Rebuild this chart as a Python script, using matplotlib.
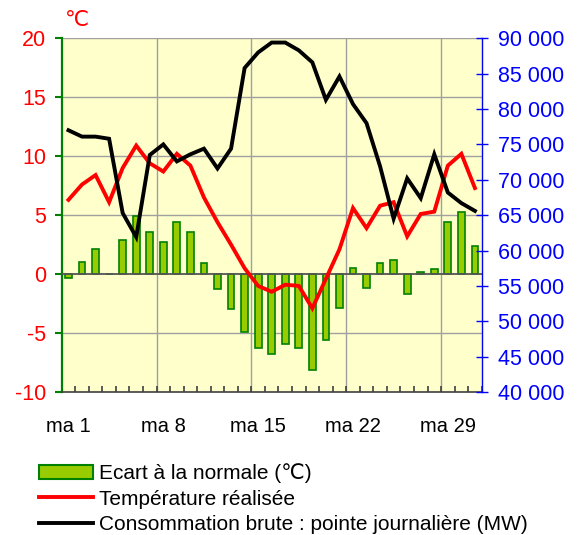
import numpy as np
import matplotlib
matplotlib.use("Agg")
import matplotlib.pyplot as plt
from matplotlib.patches import Patch
from matplotlib.lines import Line2D
from matplotlib.ticker import FixedLocator, FuncFormatter

plt.rcParams['font.family'] = ['Liberation Sans', 'DejaVu Sans']

days = np.arange(1, 32)
ecart = [-0.3, 1.0, 2.1, 0.0, 2.9, 4.9, 3.6, 2.7, 4.4, 3.6, 0.9, -1.3, -3.0, -4.9, -6.3, -6.8,
         -5.9, -6.3, -8.1, -5.6, -2.9, 0.5, -1.2, 0.9, 1.2, -1.7, 0.2, 0.4, 4.4, 5.3, 2.4]
temperature = [6.3, 7.6, 8.4, 6.1, 9.0, 10.9, 9.4, 8.7, 10.2, 9.2, 6.5, 4.4, 2.5, 0.5, -1.0, -1.5,
               -0.9, -1.0, -2.9, -0.4, 2.1, 5.6, 3.9, 5.8, 6.1, 3.2, 5.1, 5.3, 9.2, 10.2, 7.3]
consommation = [77000, 76100, 76100, 75800, 65300, 61900, 73500, 75000, 72600, 73600, 74400,
                71600, 74400, 85800, 88000, 89400, 89400, 88300, 86600, 81300, 84600, 80700,
                78000, 71900, 64500, 70200, 67400, 73600, 68200, 66700, 65600]
xtick_days = [1, 8, 15, 22, 29]
xtick_labels = ["ma 1", "ma 8", "ma 15", "ma 22", "ma 29"]
left_ticks = [-10, -5, 0, 5, 10, 15, 20]
right_ticks = [40000, 45000, 50000, 55000, 60000, 65000, 70000, 75000, 80000, 85000, 90000]
legend_labels = ["Ecart à la normale (℃)", "Température réalisée",
                 "Consommation brute : pointe journalière (MW)"]

W, H = 579, 535
fig = plt.figure(figsize=(W / 100, H / 100), dpi=100)
ax = fig.add_axes([61.7 / W, (H - 392) / H, (481.7 - 61.7) / W, (392 - 38.3) / H])
ax.set_facecolor('#FFFFCC')
ax.set_xlim(0.5, 31.5)
ax.set_ylim(-10, 20)

# grid
for y in left_ticks:
    if y not in (-10, 0):
        ax.axhline(y, color='#A0A0A0', lw=1.0, zorder=1)
for xb in [7.5, 14.5, 21.5, 28.5]:
    ax.axvline(xb, color='#A0A0A0', lw=1.0, zorder=1)

ax.bar(days, ecart, width=0.5, color='#99CC00', edgecolor='#008000', linewidth=1.2, zorder=2)
ax.axhline(0, color='#555555', lw=1.3, zorder=3)
ax.plot(days, temperature, color='#FF0000', lw=2.8, zorder=4, solid_joinstyle='miter')

ax2 = ax.twinx()
ax2.set_ylim(40000, 90000)
ax2.plot(days, consommation, color='#000000', lw=2.8, zorder=5, solid_joinstyle='miter')
ax2.patch.set_visible(False)

# spines
for a in (ax, ax2):
    a.spines['top'].set_visible(False)
ax.spines['right'].set_visible(False)
ax2.spines['left'].set_visible(False)
ax2.spines['bottom'].set_visible(False)
ax.spines['left'].set_color('#008000')
ax.spines['left'].set_linewidth(1.6)
ax.spines['bottom'].set_color('#404040')
ax.spines['bottom'].set_linewidth(1.2)
ax2.spines['right'].set_color('#0000FF')
ax2.spines['right'].set_linewidth(1.0)

# left axis
ax.set_yticks(left_ticks)
ax.set_yticklabels([str(v) for v in left_ticks])
ax.tick_params(axis='y', direction='out', length=5, width=1.5, color='#008000',
               labelcolor='#FF0000', labelsize=15.5, pad=6)

# bottom axis
ax.xaxis.set_major_locator(FixedLocator(xtick_days))
ax.set_xticklabels(xtick_labels)
ax.xaxis.set_minor_locator(FixedLocator(np.arange(0.5, 32.0, 1.0)))
ax.tick_params(axis='x', which='major', length=0, labelsize=14.5, pad=18, labelcolor='#000000')
ax.tick_params(axis='x', which='minor', direction='in', length=4, width=1.2, color='#404040')

# right axis
ax2.set_yticks(right_ticks)
ax2.yaxis.set_major_formatter(FuncFormatter(lambda v, p: f"{v:,.0f}".replace(",", " ")))
ax2.tick_params(axis='y', direction='inout', length=8, width=1.0, color='#0000FF',
                labelcolor='#0000FF', labelsize=15.5, pad=8)

fig.text(77 / W, 1 - 20 / H, "℃", color='#FF0000', fontsize=15.5, ha='center', va='center')

handles = [Patch(facecolor='#99CC00', edgecolor='#008000', linewidth=1.5),
           Line2D([], [], color='#FF0000', lw=2.8),
           Line2D([], [], color='#000000', lw=2.8)]
fig.legend(handles, legend_labels, loc='upper left', bbox_to_anchor=(26 / W, 1 - 451 / H),
           frameon=False, fontsize=15, handlelength=2.6, handleheight=0.7,
           handletextpad=0.3, labelspacing=0.3, borderpad=0.1)

fig.savefig("out.png", dpi=100)
